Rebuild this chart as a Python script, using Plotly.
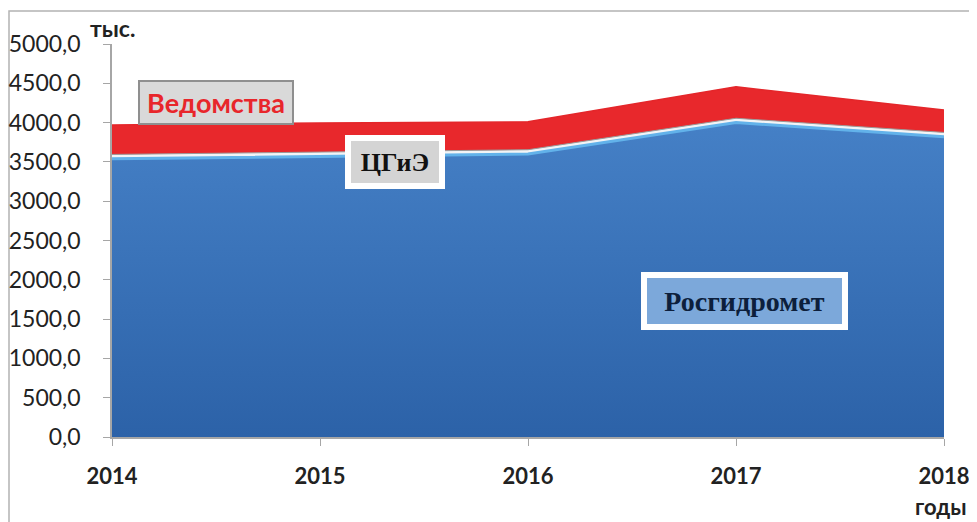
import plotly.graph_objects as go

years = [2014, 2015, 2016, 2017, 2018]
rosgidromet = [3540, 3570, 3600, 4000, 3820]
tsgie = [55, 55, 55, 55, 55]
vedomstva = [375, 370, 355, 400, 285]

y_ticks = [0, 500, 1000, 1500, 2000, 2500, 3000, 3500, 4000, 4500, 5000]
y_ticktext = [f"{v},0" for v in y_ticks]
x_ticktext = [str(y) for y in years]

fig = go.Figure()

fig.add_trace(go.Scatter(
    x=years, y=rosgidromet, name="Росгидромет", stackgroup="one",
    mode="lines", line=dict(color="#62b2ea", width=3),
    fillgradient=dict(type="vertical",
                      colorscale=[[0, "#2c62a8"], [1, "#4580c6"]]),
))
fig.add_trace(go.Scatter(
    x=years, y=tsgie, name="ЦГиЭ", stackgroup="one",
    mode="lines", line=dict(color="#9a9a9a", width=1),
    fillcolor="#f2f4f6",
))
fig.add_trace(go.Scatter(
    x=years, y=vedomstva, name="Ведомства", stackgroup="one",
    mode="lines", line=dict(color="#e4262a", width=1.5),
    fillcolor="#e8282c",
))

sans = "Lato, 'Open Sans', sans-serif"
serif = "'Liberation Serif', 'DejaVu Serif', serif"

# page has an 8px body margin, so the figure is drawn 8px in from the top-left
W, H = 969, 514
L, R, T, B = 104, 33, 36, 85
PW, PH = W - L - R, H - T - B

fig.update_layout(
    width=W, height=H,
    margin=dict(l=L, r=R, t=T, b=B, autoexpand=False),
    paper_bgcolor="white", plot_bgcolor="white",
    showlegend=False,
    xaxis=dict(
        range=[2014, 2018], tickmode="array", tickvals=years, ticktext=x_ticktext,
        showgrid=False, zeroline=False, showline=True, linecolor="#a6a6a6", linewidth=1.5,
        ticks="outside", ticklen=7, tickcolor="#a6a6a6", automargin=False,
        tickfont=dict(family=sans, size=22, color="#222222", weight="bold"),
        ticklabelstandoff=12,
    ),
    yaxis=dict(
        range=[0, 5000], tickmode="array", tickvals=y_ticks, ticktext=y_ticktext,
        showgrid=False, zeroline=False, showline=True, linecolor="#a6a6a6", linewidth=1.5,
        ticks="outside", ticklen=7, tickcolor="#a6a6a6", automargin=False,
        tickfont=dict(family=sans, size=23, color="#222222"),
        ticklabelstandoff=18,
    ),
)

# outer frame (pixel positions relative to the figure origin)
fig.add_shape(type="rect", xref="paper", yref="paper",
              x0=(1 - L) / PW, x1=(965 - L) / PW,
              y0=-0.4, y1=(PH + T - 3) / PH,
              line=dict(color="#b3b3b3", width=1.5), fillcolor="rgba(0,0,0,0)",
              layer="below")

# series labels
fig.add_annotation(x=2014.5, y=4250, text="<b>Ведомства</b>", showarrow=False,
                   font=dict(family=sans, size=27, color="#e8262b"),
                   bgcolor="#d9d9d9", bordercolor="#8f8f8f", borderwidth=2,
                   width=150, height=39)
fig.add_annotation(x=2015.36, y=3500, text="<b>ЦГиЭ</b>", showarrow=False,
                   font=dict(family=serif, size=26, color="#111111"),
                   bgcolor="#d4d4d4", bordercolor="white", borderwidth=6,
                   width=86, height=40)
fig.add_annotation(x=2017.04, y=1730, text="<b>Росгидромет</b>", showarrow=False,
                   font=dict(family=serif, size=28, color="#0d1f3c"),
                   bgcolor="#7ca8da", bordercolor="white", borderwidth=6,
                   width=193, height=44)

# axis unit labels
fig.add_annotation(xref="paper", yref="paper", x=0.0, y=1.0, yshift=0,
                   text="<b>тыс.</b>", showarrow=False, xanchor="center", yanchor="bottom",
                   font=dict(family=sans, size=23, color="#222222"))
fig.add_annotation(xref="paper", yref="paper", x=(932 - L) / PW, y=-B / PH,
                   text="<b>годы</b>", showarrow=False, xanchor="center", yanchor="bottom",
                   font=dict(family=sans, size=22, color="#222222"))

fig.write_html("out.html")
